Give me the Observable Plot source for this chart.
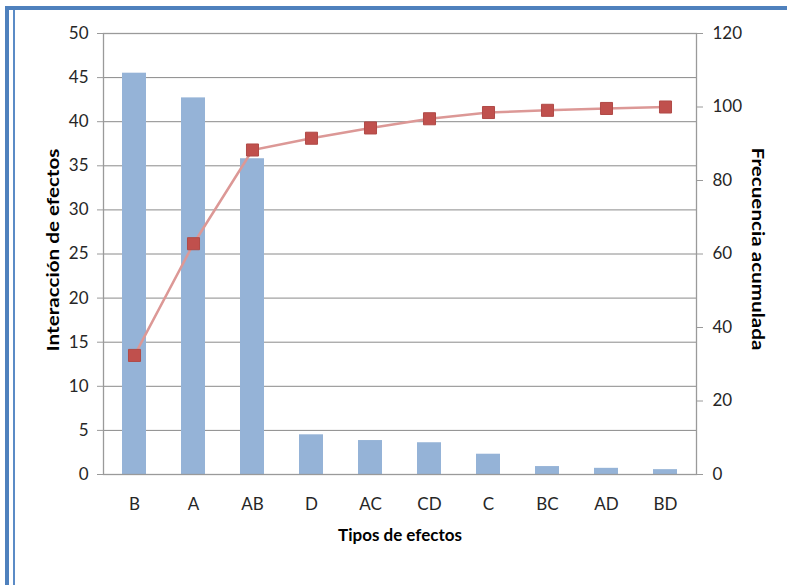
<!DOCTYPE html>
<html>
<head>
<meta charset="utf-8">
<script src="https://cdn.jsdelivr.net/npm/d3@7"></script>
<script src="https://cdn.jsdelivr.net/npm/@observablehq/plot@0.6"></script>
<style>
  html, body { margin: 0; padding: 0; background: #fff; }
  #wrap { position: relative; width: 787px; height: 585px; overflow: hidden; }
  #wrap svg { position: absolute; left: 0; top: 0; }
  .edge { position: absolute; background: #4f81bd; }
</style>
</head>
<body>
<div id="wrap">
  <div class="edge" style="left:5px; top:6px; width:782px; height:4px;"></div>
  <div class="edge" style="left:5px; top:6px; width:4px; height:579px;"></div>
  <div class="edge" style="left:13px; top:10px; width:2px; height:575px; background:#5b8bc6;"></div>
</div>
<script>
// Effect names, in Pareto order
const efectos = ["B", "A", "AB", "D", "AC", "CD", "C", "BC", "AD", "BD"];
// Magnitude of each effect (left axis)
const interaccion = [45.5, 42.7, 35.8, 4.5, 3.85, 3.6, 2.3, 0.9, 0.7, 0.55];
// Cumulative percentage (right axis)
const acumulada = [32.4, 62.8, 88.3, 91.5, 94.3, 96.8, 98.5, 99.1, 99.6, 100];

const leftTicks = d3.range(0, 51, 5);
const rightTicks = d3.range(0, 121, 20);
const leftMax = 50, rightMax = 120;
const k = leftMax / rightMax; // right-axis units -> left-axis units

const rows = efectos.map((e, i) => ({efecto: e, valor: interaccion[i], acum: acumulada[i]}));

const gridColor = "#8a8a8a";
const textColor = "#262626";
const titleY = "Interacción de efectos";
const titleY2 = "Frecuencia acumulada";
const titleX = "Tipos de efectos";

const chart = Plot.plot({
  width: 787,
  height: 585,
  marginLeft: 103,
  marginRight: 91,
  marginTop: 33,
  marginBottom: 111,
  style: {fontFamily: "Lato, 'Open Sans', sans-serif", fontSize: "17px", color: textColor, background: "transparent"},
  x: {domain: efectos, paddingInner: 0.6, paddingOuter: 0.3},
  y: {domain: [0, leftMax]},
  marks: [
    Plot.gridY(leftTicks, {stroke: gridColor, strokeOpacity: 1, strokeWidth: 1}),
    Plot.barY(rows, {x: "efecto", y: "valor", fill: "#95b3d7"}),
    Plot.frame({stroke: "#9a9a9a", strokeWidth: 1.3}),
    Plot.axisY(leftTicks, {anchor: "left", tickSize: 6, tickPadding: 9, stroke: "#9a9a9a", label: null, fill: textColor}),
    Plot.axisY(rightTicks.map(v => v * k), {
      anchor: "right", tickSize: 6, tickPadding: 10, stroke: "#9a9a9a", label: null, fill: textColor,
      tickFormat: d => String(Math.round(d / k))
    }),
    Plot.axisX({anchor: "bottom", tickSize: 0, tickPadding: 23, label: null, fill: textColor}),
    Plot.line(rows, {x: "efecto", y: d => d.acum * k, stroke: "#dc9896", strokeWidth: 2.5}),
    Plot.dot(rows, {x: "efecto", y: d => d.acum * k, symbol: "square", r: 6.8, fill: "#c0504d", stroke: "#b04a47", strokeWidth: 1}),
    Plot.text([titleY], {frameAnchor: "left", textAnchor: "middle", dx: -50, dy: -4, rotate: -90, fontWeight: "bold", fontSize: 17.5, fill: "#000"}),
    Plot.text([titleY2], {frameAnchor: "right", textAnchor: "middle", dx: 61, dy: -5, rotate: 90, fontWeight: "bold", fontSize: 17.5, fill: "#000"}),
    Plot.text([titleX], {frameAnchor: "bottom", dy: 66, fontWeight: "bold", fontSize: 17, fill: "#000"})
  ]
});

// Stretch the rotated axis titles along their length (condensed-face look)
d3.select(chart).selectAll("text")
  .filter(function () { return this.textContent === titleY || this.textContent === titleY2; })
  .each(function () {
    const t = this.getAttribute("transform") || "";
    this.setAttribute("transform", t + " scale(1.18,1)");
  });

document.getElementById("wrap").prepend(chart);
</script>
</body>
</html>
